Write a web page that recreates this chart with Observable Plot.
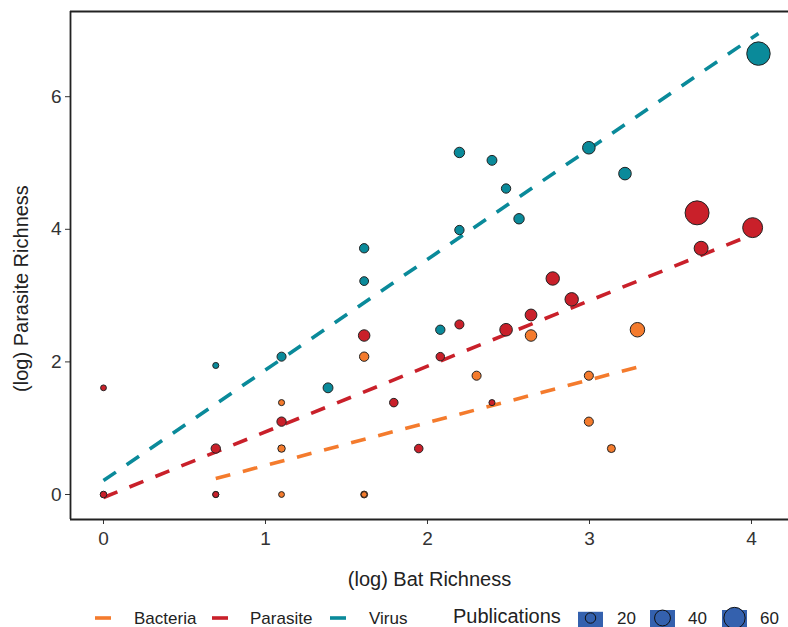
<!DOCTYPE html>
<html>
<head>
<meta charset="utf-8">
<script src="https://cdn.jsdelivr.net/npm/d3@7"></script>
<script src="https://cdn.jsdelivr.net/npm/@observablehq/plot@0.6"></script>
<style>
  html, body { margin: 0; padding: 0; background: #fff; }
  #chart svg { display: block; }
</style>
</head>
<body>
<div id="chart"></div>
<script>
// ---- data ----
const groups = ["Bacteria", "Parasite", "Virus"];
const groupColors = ["#F47B2D", "#C9202A", "#0A8A9A"];

const bacteriaX   = [0.693, 1.099, 1.099, 1.099, 1.609, 1.609, 1.609, 2.303, 2.639, 2.996, 2.996, 3.135, 3.296];
const bacteriaY   = [0,     1.386, 0.693, 0,     2.079, 0,     0,     1.792, 2.398, 1.792, 1.099, 0.693, 2.485];
const bacteriaPub = [4,     4,     9,     3,     16,    7,     3,     15,    24,    15,    15,    11,    35];

const parasiteX   = [0,     0,     0.693, 0.693, 1.099, 1.609, 1.792, 1.946, 2.079, 2.197, 2.398, 2.485, 2.639, 2.773, 2.890, 3.664, 3.689, 4.007];
const parasiteY   = [1.609, 0,     0.693, 0,     1.099, 2.398, 1.386, 0.693, 2.079, 2.565, 1.386, 2.485, 2.708, 3.258, 2.944, 4.248, 3.714, 4.025];
const parasitePub = [3,     6,     16,    4,     16,    24,    13,    13,    13,    15,    4,     28,    25,    31,    31,    70,    33,    55];

const virusX   = [0.693, 1.099, 1.386, 1.609, 1.609, 2.079, 2.197, 2.197, 2.398, 2.485, 2.565, 2.996, 3.219, 4.043];
const virusY   = [1.946, 2.079, 1.609, 3.714, 3.219, 2.485, 5.159, 3.989, 5.040, 4.615, 4.159, 5.230, 4.840, 6.650];
const virusPub = [4,     15,    18,    16,    14,    16,    20,    16,    18,    16,    20,    28,    28,    68];

// linear fits (intercept, slope, x-range)
const fitIntercept = [-0.208, -0.045, 0.21];
const fitSlope     = [0.646, 0.99, 1.668];
const fitXStart    = [0.693, 0, 0];
const fitXEnd      = [3.296, 4.007, 4.043];

// axes
const xTicks = [0, 1, 2, 3, 4];
const yTicks = [0, 2, 4, 6];
const xLim = [-0.2037, 4.2284];
const yLim = [-0.377, 7.285];
const xTitle = "(log) Bat Richness";
const yTitle = "(log) Parasite Richness";

// legend
const sizeLegendTitle = "Publications";
const sizeLegendValues = [20, 40, 60];

// ---- build tables ----
const points = [];
[[bacteriaX, bacteriaY, bacteriaPub], [parasiteX, parasiteY, parasitePub], [virusX, virusY, virusPub]]
  .forEach(([xs, ys, ps], gi) => {
    xs.forEach((x, i) => points.push({group: groups[gi], x, y: ys[i], pub: ps[i]}));
  });

const fitLines = [];
groups.forEach((g, i) => {
  [fitXStart[i], fitXEnd[i]].forEach(x => fitLines.push({group: g, x, y: fitIntercept[i] + fitSlope[i] * x}));
});

const rOpts = {type: "linear", domain: [0, 70], range: [2.5, 12]};
const font = "'Liberation Sans', Arial, sans-serif";

const plot = Plot.plot({
  width: 788,
  height: 595,
  marginLeft: 70,
  marginRight: 0,
  marginTop: 11,
  marginBottom: 76,
  style: {fontFamily: font, fontSize: "19px", color: "#333", background: "#fff"},
  x: {domain: xLim, ticks: xTicks, tickSize: 5, tickPadding: 7, label: null, tickFormat: d => String(d)},
  y: {domain: yLim, ticks: yTicks, tickSize: 5, tickPadding: 4, label: null, tickFormat: d => String(d)},
  r: rOpts,
  color: {domain: groups, range: groupColors},
  marks: [
    Plot.ruleY([yLim[0]], {stroke: "#222", strokeWidth: 1.8}),
    Plot.ruleY([yLim[1]], {stroke: "#222", strokeWidth: 1.8}),
    Plot.ruleX([xLim[0]], {stroke: "#222", strokeWidth: 1.8}),
    Plot.line(fitLines, {x: "x", y: "y", z: "group", stroke: "group", strokeWidth: 3.6,
      strokeDasharray: "15 13", strokeLinecap: "butt"}),
    Plot.dot(points, {x: "x", y: "y", r: "pub", fill: "group", stroke: "#222", strokeWidth: 1,
      fillOpacity: 1}),
    Plot.text([xTitle], {frameAnchor: "bottom", dy: 66, fontSize: 20, fill: "#222"}),
    Plot.text([yTitle], {frameAnchor: "left", textAnchor: "middle", dx: -49, dy: 23, rotate: -90, fontSize: 20, fill: "#222"})
  ]
});
document.getElementById("chart").appendChild(plot);

// ---- legend below the plot ----
const rScale = Plot.scale({r: rOpts});
const legend = d3.select("#chart").append("svg")
  .attr("width", 788).attr("height", 32)
  .style("font-family", font);

const cy = 23;       // centre line of the legend keys
const baseline = 29; // text baseline
const keyX = [95, 212, 330];
const labelX = [134, 250, 369];
groups.forEach((g, i) => {
  legend.append("line")
    .attr("x1", keyX[i]).attr("x2", keyX[i] + 16)
    .attr("y1", cy).attr("y2", cy)
    .attr("stroke", groupColors[i]).attr("stroke-width", 3.6);
  legend.append("text")
    .attr("x", labelX[i]).attr("y", baseline)
    .attr("font-size", 17).attr("fill", "#222").text(g);
});
legend.append("text")
  .attr("x", 453).attr("y", 28)
  .attr("font-size", 20).attr("fill", "#222").text(sizeLegendTitle);
const sizeKeyX = [578, 650, 722];
const sizeLabelX = [617, 688, 760];
sizeLegendValues.forEach((v, i) => {
  const r = rScale.apply(v);
  legend.append("rect")
    .attr("x", sizeKeyX[i]).attr("y", cy - Math.min(r, 7) - 1)
    .attr("width", 25).attr("height", 32)
    .attr("fill", "#3461AE");
  legend.append("circle")
    .attr("cx", sizeKeyX[i] + 12.5).attr("cy", cy)
    .attr("r", r).attr("fill", "#3461AE").attr("stroke", "#111").attr("stroke-width", 1);
  legend.append("text")
    .attr("x", sizeLabelX[i]).attr("y", baseline)
    .attr("font-size", 17).attr("fill", "#222").text(String(v));
});
</script>
</body>
</html>
